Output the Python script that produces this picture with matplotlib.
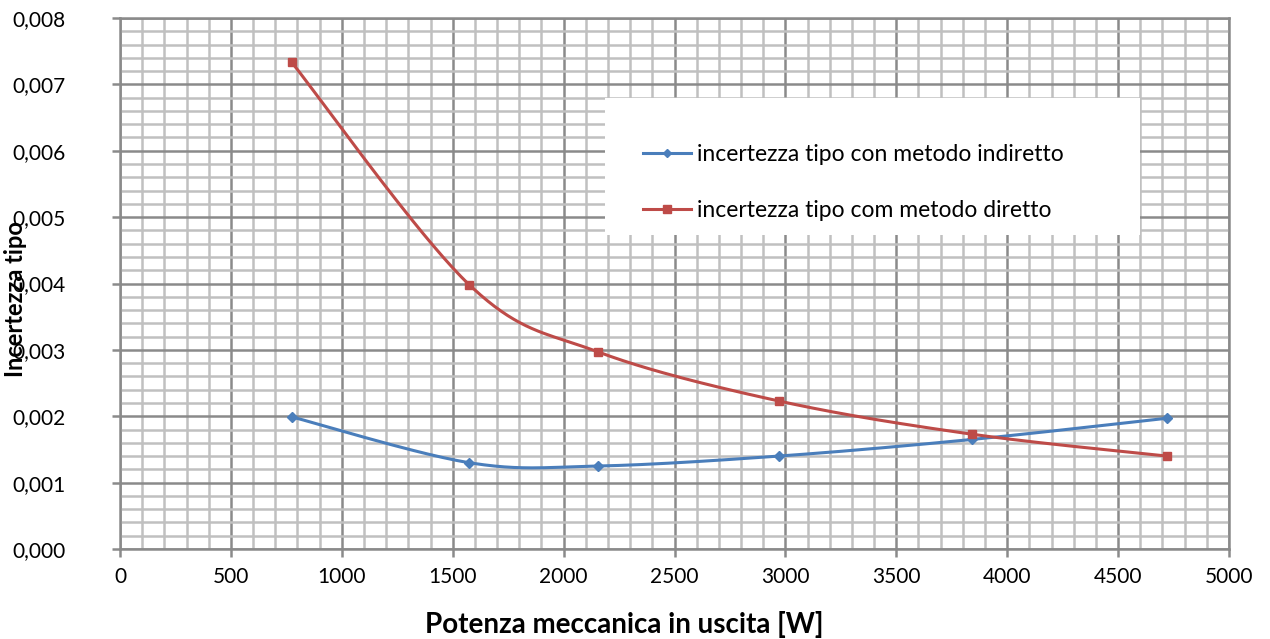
import numpy as np
import matplotlib
matplotlib.use("Agg")
import matplotlib.pyplot as plt
from matplotlib.ticker import MultipleLocator, FuncFormatter
from matplotlib.patches import Rectangle

# data
potenza = [775, 1575, 2155, 2970, 3840, 4720]
inc_indiretto = [0.00199, 0.00130, 0.00125, 0.00140, 0.00165, 0.00197]
inc_diretto = [0.00733, 0.00398, 0.00297, 0.00223, 0.00173, 0.00140]

plt.rcParams['font.family'] = ['Lato', 'DejaVu Sans']

XMAX, YMAX = 5000, 0.008
ASPECT = 531 / 1109


def smooth(xs, ys, n=40):
    # excel-like smoothed line: bezier through points, control pts at 1/6
    px = np.array(xs, float) / XMAX
    py = np.array(ys, float) / YMAX * ASPECT
    pts = np.column_stack([px, py])
    m = len(pts)
    out = []
    for i in range(m - 1):
        p0 = pts[i - 1] if i > 0 else pts[i]
        p1 = pts[i]
        p2 = pts[i + 1]
        p3 = pts[i + 2] if i + 2 < m else pts[i + 1]
        c1 = p1 + (p2 - p0) / 6.0
        c2 = p2 - (p3 - p1) / 6.0
        t = np.linspace(0, 1, n)[:, None]
        seg = (1 - t) ** 3 * p1 + 3 * (1 - t) ** 2 * t * c1 + 3 * (1 - t) * t ** 2 * c2 + t ** 3 * p2
        out.append(seg if i == 0 else seg[1:])
    out = np.vstack(out)
    return out[:, 0] * XMAX, out[:, 1] / ASPECT * YMAX


fig = plt.figure(figsize=(12.7, 6.39), dpi=100)
ax = fig.add_axes([120 / 1270, 90 / 639, 1109 / 1270, 531 / 639])

blue = '#4a7ebb'
red = '#be4b48'

sx, sy = smooth(potenza, inc_indiretto)
ax.plot(sx, sy, color=blue, lw=2.2, zorder=3)
ax.plot(potenza, inc_indiretto, ls='none', marker='D', ms=5, color=blue, zorder=4)
sx, sy = smooth(potenza, inc_diretto)
ax.plot(sx, sy, color=red, lw=2.2, zorder=3)
ax.plot(potenza, inc_diretto, ls='none', marker='s', ms=6, color=red, zorder=4)

# legend proxies
ax.plot([], [], color=blue, lw=2.2, marker='D', ms=4, label='incertezza tipo con metodo indiretto')
ax.plot([], [], color=red, lw=2.2, marker='s', ms=6, label='incertezza tipo com metodo diretto')

ax.set_xlim(0, XMAX)
ax.set_ylim(0, YMAX)
ax.xaxis.set_major_locator(MultipleLocator(500))
ax.xaxis.set_minor_locator(MultipleLocator(100))
ax.yaxis.set_major_locator(MultipleLocator(0.001))
ax.yaxis.set_minor_locator(MultipleLocator(0.0002))
ax.yaxis.set_major_formatter(FuncFormatter(lambda v, p: f"{v:.3f}".replace('.', ',')))

ax.grid(which='minor', color='#c0c0c0', lw=1.8, zorder=0)
ax.grid(which='major', color='#8a8a8a', lw=1.8, zorder=1)
ax.set_axisbelow(True)
for s in ax.spines.values():
    s.set_color('#8a8a8a')
    s.set_linewidth(1.8)
ax.tick_params(which='major', direction='out', length=6, width=1.8, color='#8a8a8a',
               labelsize=15)
ax.tick_params(axis='x', which='major', pad=7)
ax.tick_params(axis='y', which='major', pad=33)
ax.tick_params(which='minor', length=0)

ax.set_xlabel('Potenza meccanica in uscita [W]', fontsize=20, fontweight='bold', va='top')
ax.xaxis.set_label_coords(0.4545, -0.117)
ax.set_ylabel('Incertezza tipo', fontsize=17, fontweight='bold', va='center')
ax.yaxis.set_label_coords(-0.094, 0.47)

# white legend background box
ax.add_patch(Rectangle((0.4373, 0.5913), 0.4824, 0.258, transform=ax.transAxes,
                       facecolor='white', edgecolor='none', zorder=4.5))
leg = ax.legend(loc='upper left', bbox_to_anchor=(0.4716, 0.7625), fontsize=16.5,
                frameon=False, handlelength=2.1, labelspacing=1.53, borderpad=0,
                handletextpad=0.25, borderaxespad=0)
leg.set_zorder(5)

fig.savefig('out.png', dpi=100)
